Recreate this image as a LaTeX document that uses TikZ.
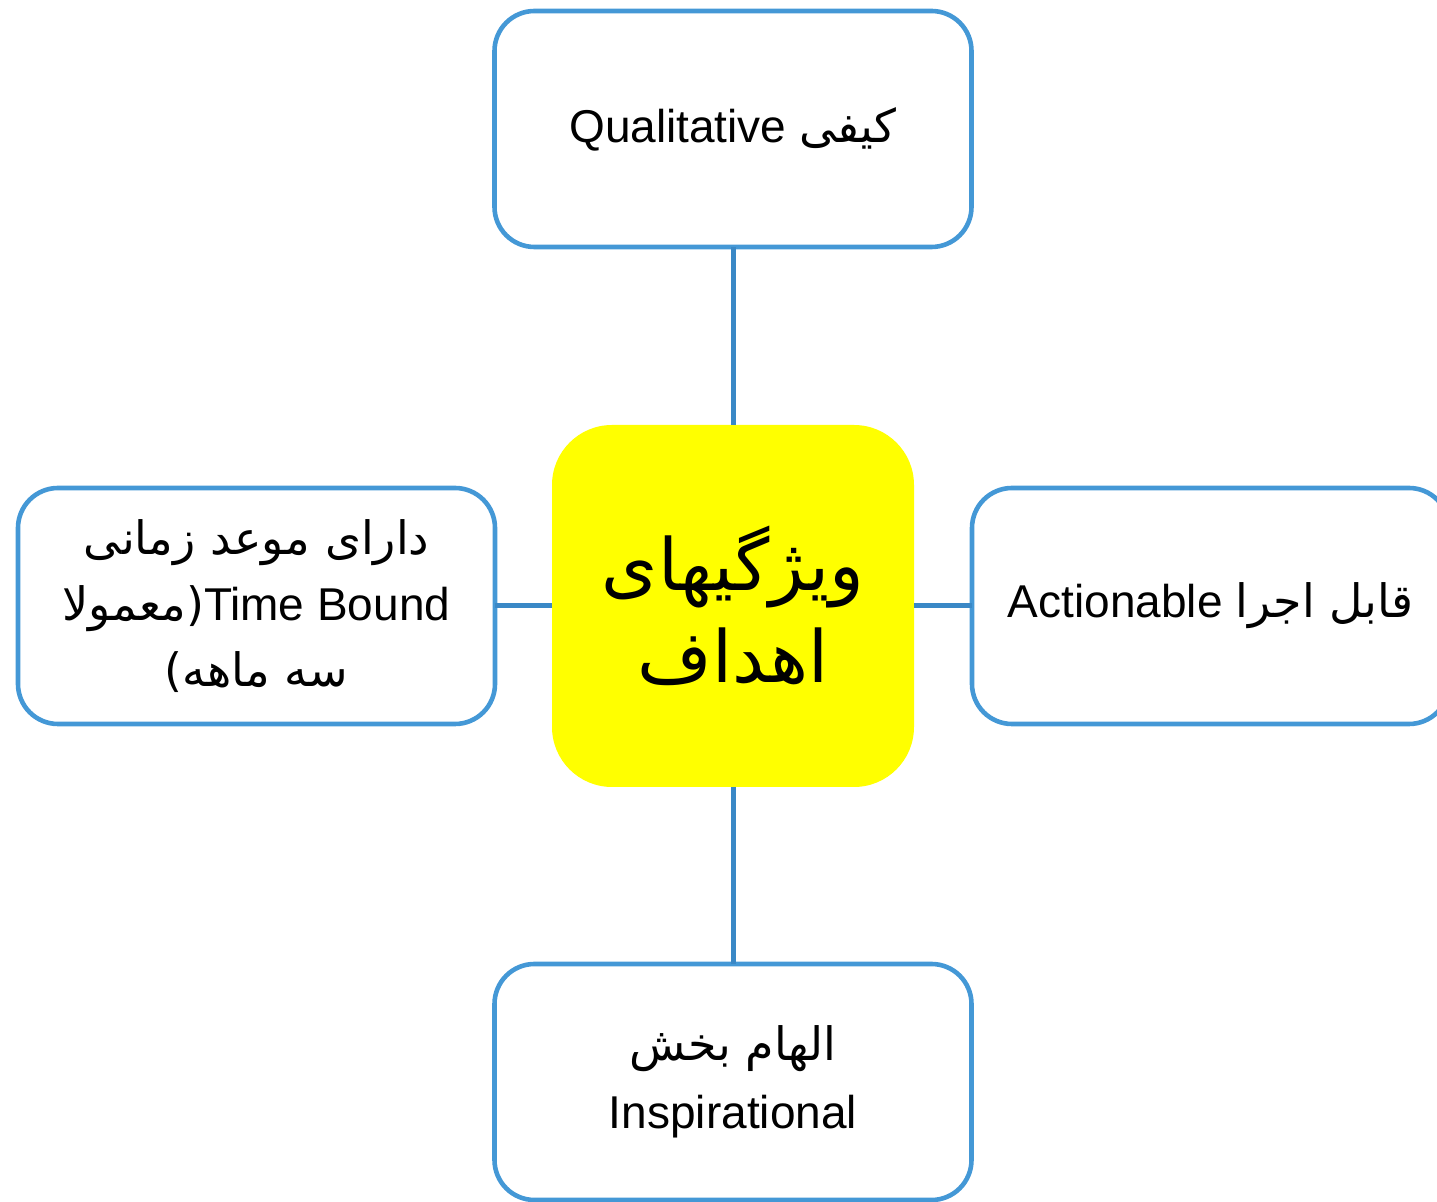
\documentclass[tikz,border=0pt]{standalone}
\usepackage{fontspec}
\setmainfont{Liberation Sans}
\newfontfamily\fafont[Script=Arabic]{DejaVu Sans}
\TeXXeTstate=1
\usetikzlibrary{positioning}

\definecolor{boxblue}{RGB}{68,152,214}
\definecolor{lineblue}{RGB}{58,136,198}
\definecolor{goalyellow}{RGB}{255,255,0}

\newcommand\fatext[1]{{\fafont #1}}
\newcommand\entext[1]{\beginL #1\endL}

\begin{document}
\begin{tikzpicture}[
  x=0.5pt,
  y=-0.5pt,
  inner sep=0pt,
  outer sep=0pt,
  leaf/.style={
    draw=boxblue,
    fill=white,
    line width=2.3pt,
    rounded corners=20pt,
    minimum width=238.5pt,
    minimum height=118pt,
    align=center,
    font=\fontsize{23}{33}\selectfont,
  },
  goal/.style={
    fill=goalyellow,
    rounded corners=30pt,
    minimum width=181pt,
    minimum height=181pt,
    align=center,
    font=\fontsize{36}{46}\selectfont,
  },
  link/.style={
    draw=lineblue,
    line width=2.5pt,
  },
]
  \useasboundingbox (0, 0) rectangle (1437, 1202);

  \node[goal] (goal) at (733, 606)
    {\beginR\fatext{ویژگیهای}\endR\\ \beginR\fatext{اهداف}\endR};

  \node[leaf, above=89pt of goal] (qual)
    {\beginR\fatext{کیفی} \entext{Qualitative}\endR};
  \node[leaf, left=28.5pt of goal] (time)
    {\beginR\fatext{دارای موعد زمانی}\endR\\
     \beginR\entext{Time Bound}\fatext{(معمولا}\endR\\
     \beginR\fatext{سه ماهه)}\endR};
  \node[leaf, right=29pt of goal] (act)
    {\beginR\fatext{قابل اجرا} \entext{Actionable}\endR};
  \node[leaf, below=88.5pt of goal, font=\fontsize{23}{34}\selectfont] (insp)
    {\beginR\fatext{الهام بخش}\endR\\ Inspirational};

  \path[link]
    (goal) -- (qual)
    (goal) -- (time)
    (goal) -- (act)
    (goal) -- (insp)
  ;
\end{tikzpicture}
\end{document}
